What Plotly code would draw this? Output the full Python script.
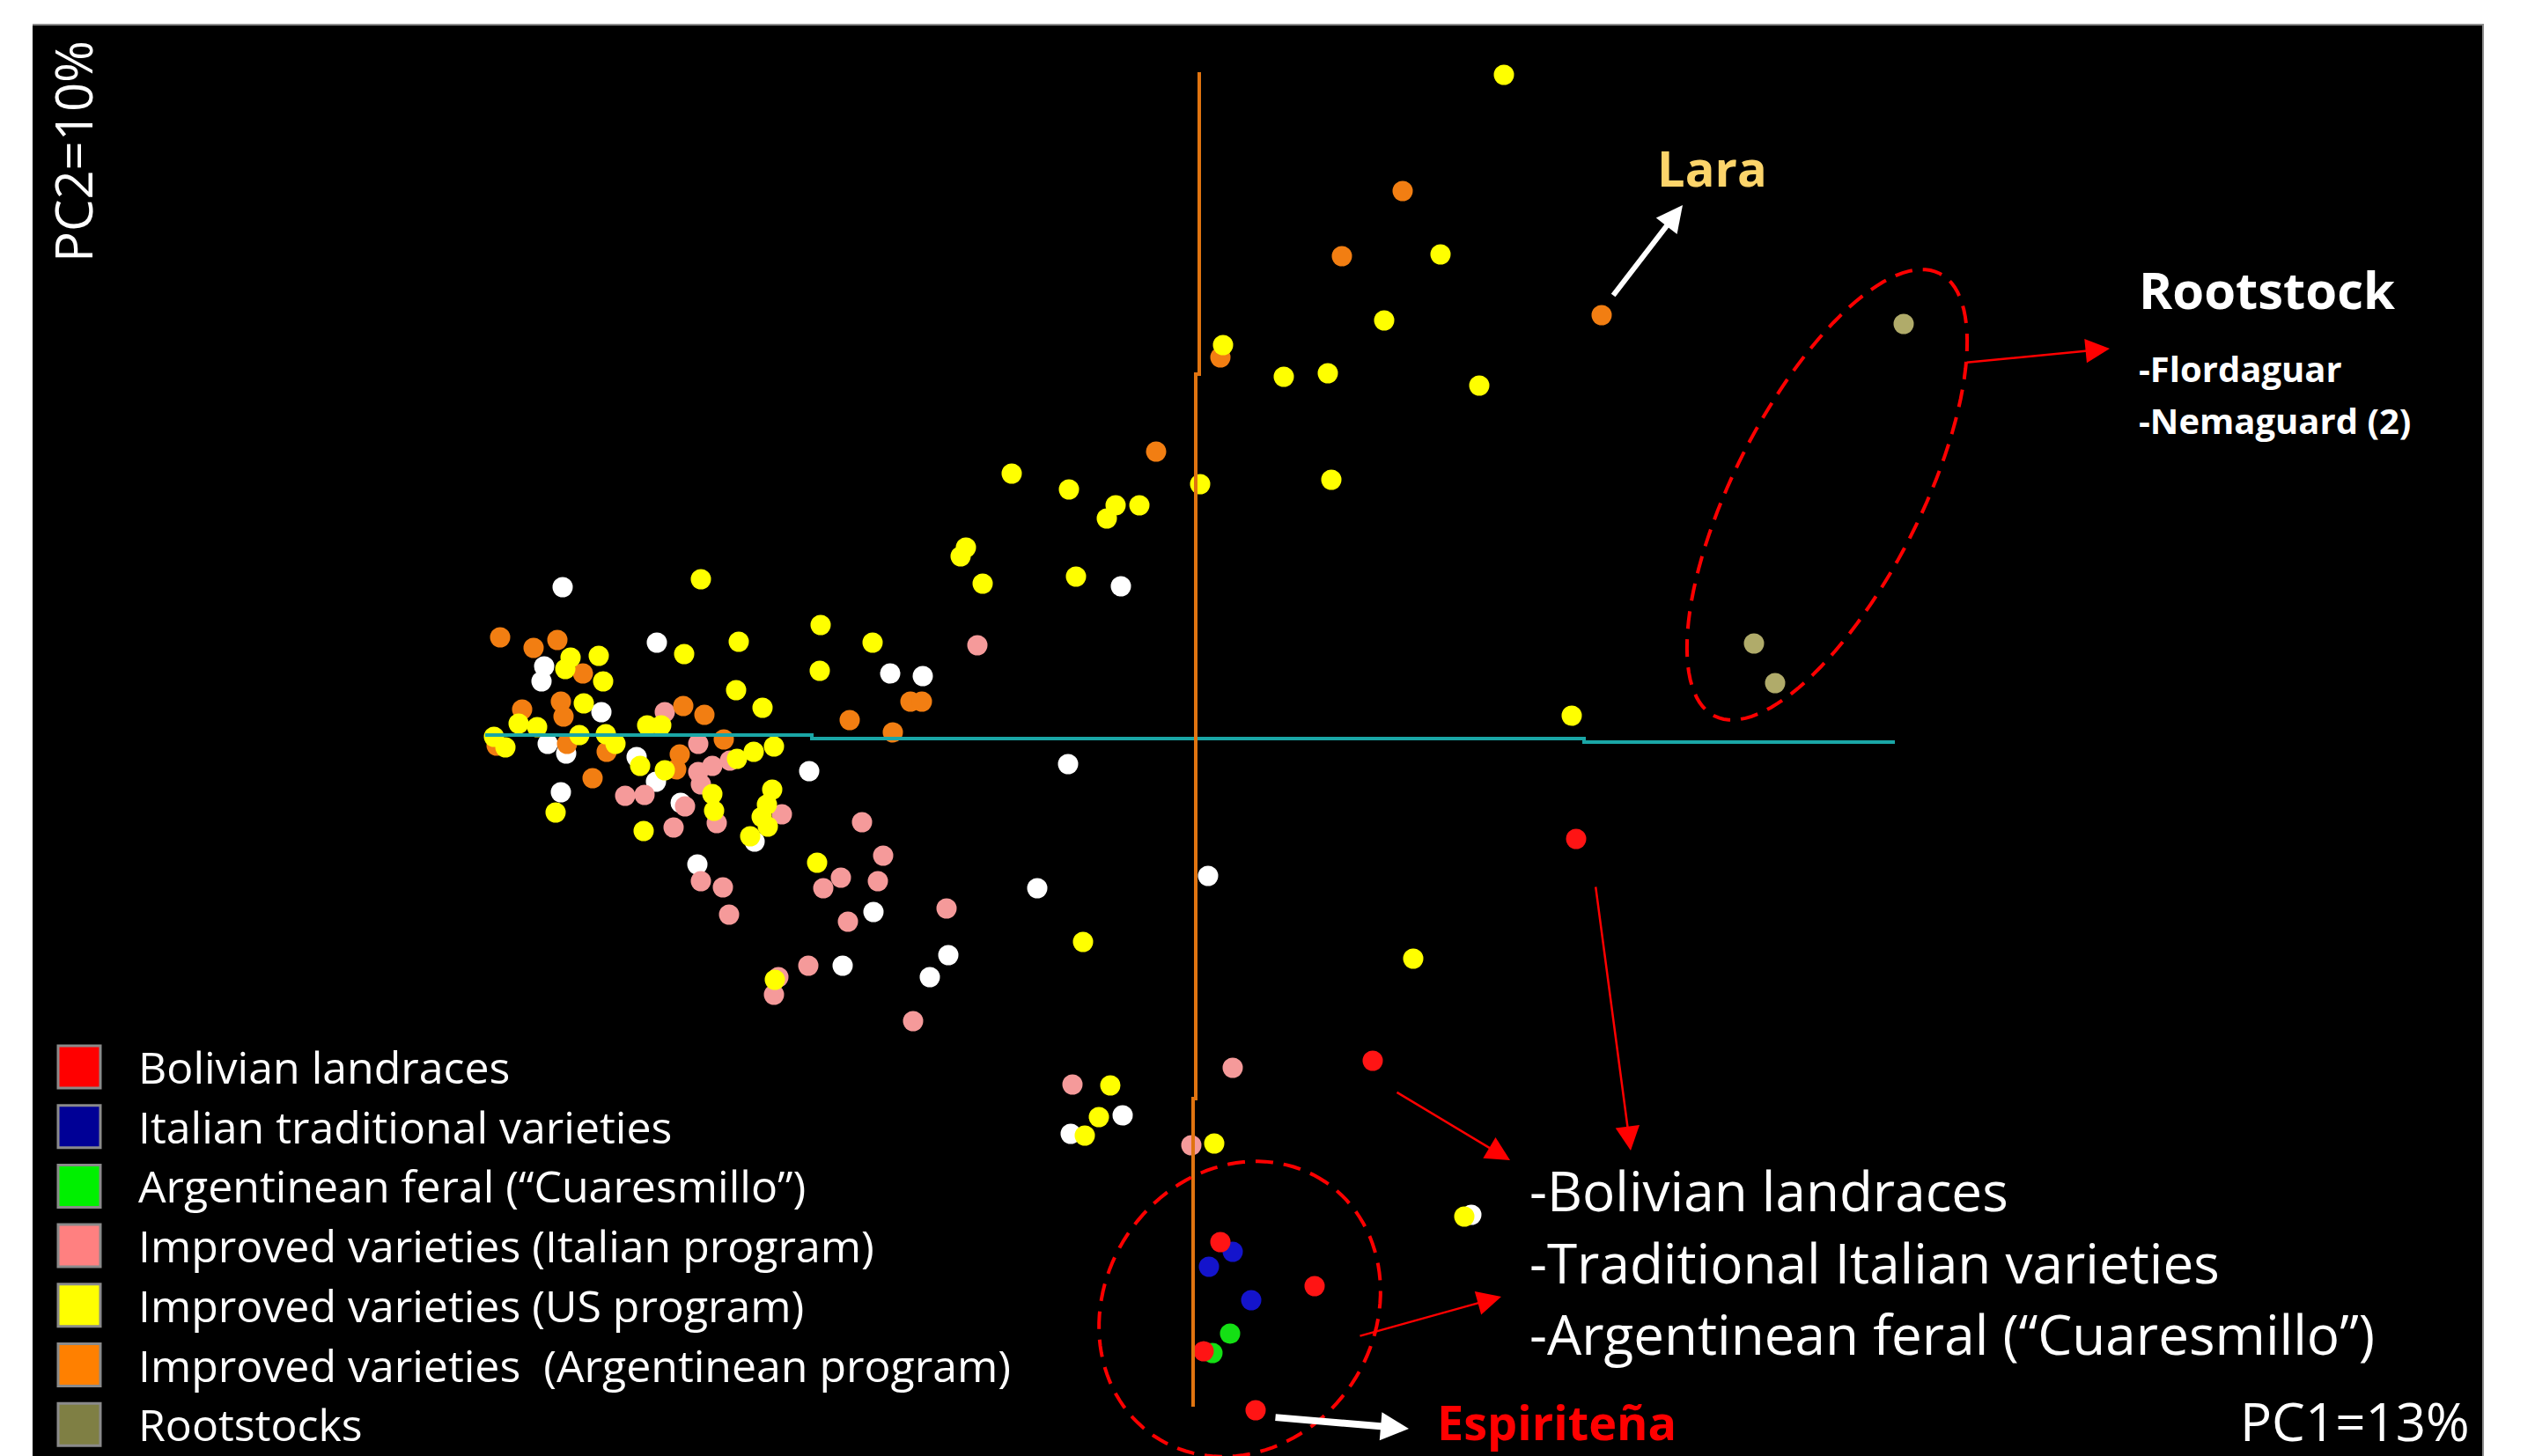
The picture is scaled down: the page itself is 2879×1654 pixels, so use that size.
import math
import plotly.graph_objects as go

# ---------------- data: PC scores (PC1, PC2) ----------------
group_names = [
    "Bolivian landraces",
    "Italian traditional varieties",
    "Argentinean feral (\u201cCuaresmillo\u201d)",
    "Improved varieties (Italian program)",
    "Improved varieties (US program)",
    "Improved varieties\u00a0 (Argentinean program)",
    "Rootstocks",
]

bolivian_pc1 = [4.31, 2.00, 0.27, 1.34, 0.08, 0.67]
bolivian_pc2 = [-1.12, -3.64, -5.70, -6.20, -6.94, -7.61]

italian_trad_pc1 = [0.41, 0.14, 0.62]
italian_trad_pc2 = [-5.81, -5.98, -6.36]

feral_pc1 = [0.38, 0.18]
feral_pc2 = [-6.74, -6.96]

italian_prog_pc1 = [-2.49, -6.04, -5.66, -5.50, -5.30, -5.66, -5.63, -6.49, -6.27, -5.81,
                    -5.45, -4.71, -5.94, -3.80, -3.56, -5.63, -5.38, -4.04, -4.24, -3.62,
                    -5.31, -3.96, -2.84, -4.41, -4.75, -4.80, -3.22, 0.41, -1.41, -0.06]
italian_prog_pc2 = [1.08, 0.32, -0.04, -0.29, -0.23, -0.36, -0.50, -0.63, -0.62, -0.75,
                    -0.94, -0.84, -0.99, -0.93, -1.31, -1.60, -1.67, -1.56, -1.68, -1.60,
                    -1.98, -2.06, -1.91, -2.56, -2.69, -2.89, -3.19, -3.72, -3.91, -4.60]

us_prog_pc1 = [-5.63, -2.62, -2.68, -2.43, -1.37, -5.82, -5.20, -4.27, -3.68, -6.79,
               -7.11, -7.17, -6.74, -4.28, -5.23, -4.93, -6.96, -7.70, -7.49, -6.24,
               -6.08, -7.98, -7.85, -7.01, -6.71, -6.60, -4.80, -5.22, -5.03, -6.32,
               -6.04, -5.50, -5.48, -4.82, -4.88, -4.94, -4.87, -5.07, -7.28, -6.28,
               -4.31, -4.79, -1.29, 3.49, 2.77, 2.13, 0.30, 0.99, 1.49, 3.21,
               -1.45, -0.92, -0.65, -1.02, 0.04, 1.53, -2.10, 4.26, 2.46, -0.98,
               -1.11, -1.27, 0.20, 3.04]
us_prog_pc2 = [1.83, 2.19, 2.09, 1.78, 1.86, 0.98, 1.12, 1.31, 1.11, 0.96,
               0.94, 0.81, 0.67, 0.79, 0.57, 0.37, 0.42, 0.19, 0.15, 0.17,
               0.17, 0.04, -0.08, 0.06, 0.07, -0.04, -0.07, -0.21, -0.13, -0.29,
               -0.34, -0.61, -0.80, -0.56, -0.73, -0.87, -0.98, -1.09, -0.82, -1.03,
               -1.39, -2.72, -2.29, 7.56, 5.52, 4.77, 4.49, 4.13, 4.17, 4.03,
               2.85, 2.67, 2.67, 2.52, 2.91, 2.96, 3.03, 0.28, -2.48, -3.92,
               -4.28, -4.49, -4.58, -5.41]

arg_prog_pc1 = [-7.91, -7.53, -7.26, -6.97, -3.25, -3.12, -5.83, -5.59, -3.94, -3.45,
                -7.66, -7.22, -7.19, -7.95, -7.15, -6.70, -5.37, -5.87, -5.91, -6.86,
                2.34, 1.65, 4.60, 0.27, -0.46]
arg_prog_pc2 = [1.17, 1.05, 1.14, 0.76, 0.44, 0.44, 0.39, 0.29, 0.23, 0.09,
                0.35, 0.44, 0.27, -0.06, -0.04, -0.13, 0.01, -0.16, -0.33, -0.43,
                6.24, 5.50, 4.83, 4.35, 3.28]

rootstock_pc1 = [8.03, 6.33, 6.57]
rootstock_pc2 = [4.73, 1.10, 0.65]

other_pc1 = [-7.20, -0.86, -6.13, -7.41, -7.44, -3.48, -3.11, -6.76, -7.37, -7.16,
             -6.36, -6.14, -7.22, -5.86, -5.02, -4.40, -1.46, -5.67, -3.67, -1.81,
             -2.82, -3.03, -4.02, 0.13, -0.84, -1.43, 3.12]
other_pc2 = [1.74, 1.75, 1.11, 0.84, 0.67, 0.76, 0.73, 0.32, -0.04, -0.15,
             -0.19, -0.47, -0.59, -0.71, -1.15, -0.35, -0.27, -1.41, -1.95, -1.68,
             -2.44, -2.69, -2.56, -1.54, -4.26, -4.47, -5.39]

# PCA axes drawn through the origin
pc1_axis_x = [-8.08, -4.37, -4.37, 4.40, 4.40, 7.93]
pc1_axis_y = [0.06, 0.06, 0.02, 0.02, -0.02, -0.02]
pc2_axis_x = [0.03, 0.03, -0.01, -0.01, -0.04, -0.04]
pc2_axis_y = [7.59, 4.16, 4.16, -4.07, -4.07, -7.57]

# ---------------- styles ----------------
FONT = "Open Sans, Lato, sans-serif"
W, H = 2879, 1654
point_colors = ["#ff1414", "#1414cc", "#14e014", "#f59a9a", "#ffff00", "#f27e12", "#b0ab6a"]
swatch_colors = ["#ff0000", "#000096", "#00f000", "#ff8080", "#ffff00", "#ff8000", "#7f7f44"]
series = [
    (bolivian_pc1, bolivian_pc2),
    (italian_trad_pc1, italian_trad_pc2),
    (feral_pc1, feral_pc2),
    (italian_prog_pc1, italian_prog_pc2),
    (us_prog_pc1, us_prog_pc2),
    (arg_prog_pc1, arg_prog_pc2),
    (rootstock_pc1, rootstock_pc2),
]

fig = go.Figure()
MS = 23

def add_pts(x, y, color, name, show=False):
    fig.add_trace(go.Scatter(
        x=x, y=y, mode="markers", name=name, showlegend=show,
        marker=dict(size=MS, color=color, line=dict(width=0)),
        hoverinfo="x+y+name"))

add_pts(other_pc1, other_pc2, "#ffffff", "Other")
draw_order = [3, 5, 4, 6, 1, 2, 0]
for i in draw_order:
    add_pts(series[i][0], series[i][1], point_colors[i], group_names[i])

# axis lines on top
fig.add_trace(go.Scatter(x=pc1_axis_x, y=pc1_axis_y, mode="lines",
                         line=dict(color="#1aa6a6", width=4), showlegend=False, hoverinfo="skip"))
fig.add_trace(go.Scatter(x=pc2_axis_x, y=pc2_axis_y, mode="lines",
                         line=dict(color="#e07410", width=4), showlegend=False, hoverinfo="skip"))

# ---------------- custom legend (squares + labels) ----------------
leg_x = -12.69
leg_y0 = -3.71
leg_dy = -0.677
leg_ys = [leg_y0 + k * leg_dy for k in range(len(group_names))]
fig.add_trace(go.Scatter(
    x=[leg_x] * len(group_names), y=leg_ys, mode="markers", showlegend=False,
    hoverinfo="skip",
    marker=dict(symbol="square", size=48, color=swatch_colors,
                line=dict(color="#8a8a8a", width=3))))
annotations = []
for name, yy in zip(group_names, leg_ys):
    annotations.append(dict(x=-12.04, y=yy, xref="x", yref="y", text=name,
                            showarrow=False, xanchor="left", yanchor="middle",
                            font=dict(family=FONT, size=50, color="white")))

# ---------------- ellipses ----------------
def ellipse_path(cx, cy, a, b, ang_deg, n=120):
    th = math.radians(ang_deg)
    pts = []
    for k in range(n + 1):
        t = 2 * math.pi * k / n
        x = cx + a * math.cos(th) * math.cos(t) - b * math.sin(th) * math.sin(t)
        y = cy + a * math.sin(th) * math.cos(t) + b * math.cos(th) * math.sin(t)
        pts.append(f"{x:.4f},{y:.4f}")
    return "M " + " L ".join(pts) + " Z"

shapes = [
    dict(type="path", xref="x", yref="y", path=ellipse_path(7.16, 2.79, 2.82, 1.06, 63),
         line=dict(color="#ff0000", width=4, dash="20px,12px")),
    dict(type="path", xref="x", yref="y", path=ellipse_path(0.49, -6.46, 1.74, 1.53, 56),
         line=dict(color="#ff0000", width=4, dash="20px,12px")),
]

# ---------------- arrows ----------------
def arrow(tail, head, color, width, size):
    return dict(x=head[0], y=head[1], ax=tail[0], ay=tail[1], xref="x", yref="y",
                axref="x", ayref="y", text="", showarrow=True, arrowhead=2,
                arrowsize=size, arrowwidth=width, arrowcolor=color, standoff=0, startstandoff=0)

annotations += [
    arrow((4.72, 5.04), (5.52, 6.08), "white", 6, 1.0),
    arrow((8.73, 4.29), (10.37, 4.45), "#ff0000", 2.5, 2.2),
    arrow((2.26, -3.99), (3.56, -4.77), "#ff0000", 2.5, 2.2),
    arrow((4.53, -1.65), (4.93, -4.66), "#ff0000", 2.5, 2.2),
    arrow((1.84, -6.77), (3.46, -6.32), "#ff0000", 2.5, 2.2),
    arrow((0.88, -7.69), (2.41, -7.82), "white", 8, 0.8),
]

# ---------------- text labels ----------------
def label(x, y, text, size, color="white", bold=False, xanchor="left", angle=0):
    t = f"<b>{text}</b>" if bold else text
    return dict(x=x, y=y, xref="x", yref="y", text=t, showarrow=False,
                xanchor=xanchor, yanchor="middle", textangle=angle,
                font=dict(family=FONT, size=size, color=color))

annotations += [
    label(-12.77, 6.69, "PC2=10%", 58, xanchor="center", angle=-90),
    label(14.48, -7.73, "PC1=13%", 60, xanchor="right"),
    label(5.85, 6.51, "Lara", 56, color="#fcd46a", bold=True, xanchor="center"),
    label(10.68, 5.13, "Rootstock", 58, bold=True),
    label(10.68, 4.23, "-Flordaguar", 40, bold=True),
    label(10.68, 3.64, "-Nemaguard (2)", 40, bold=True),
    label(3.76, -5.11, "-Bolivian landraces", 62),
    label(3.76, -5.93, "-Traditional Italian varieties", 62),
    label(3.76, -6.74, "-Argentinean feral (\u201cCuaresmillo\u201d)", 62),
    label(2.71, -7.74, "Espirite\u00f1a", 54, color="#ff0000", bold=True),
]

fig.update_layout(
    width=W, height=H, autosize=False,
    margin=dict(l=0, r=0, t=0, b=0, pad=0),
    paper_bgcolor="white", plot_bgcolor="black",
    showlegend=False,
    xaxis=dict(domain=[37 / W, 2819 / W], range=[-13.22, 14.60], showgrid=False,
               zeroline=False, showticklabels=False, ticks="", side="top",
               showline=True, linecolor="#8c8c8c", linewidth=2),
    yaxis=dict(domain=[0, 1625 / H], range=[-8.13, 8.12], showgrid=False,
               zeroline=False, showticklabels=False, ticks="", side="right",
               showline=True, linecolor="#8c8c8c", linewidth=2),
    shapes=shapes,
    annotations=annotations,
    font=dict(family=FONT),
)

fig.write_html("out.html", config={"displayModeBar": False},
               post_script="document.body.style.margin='0';document.body.style.overflow='hidden';")
